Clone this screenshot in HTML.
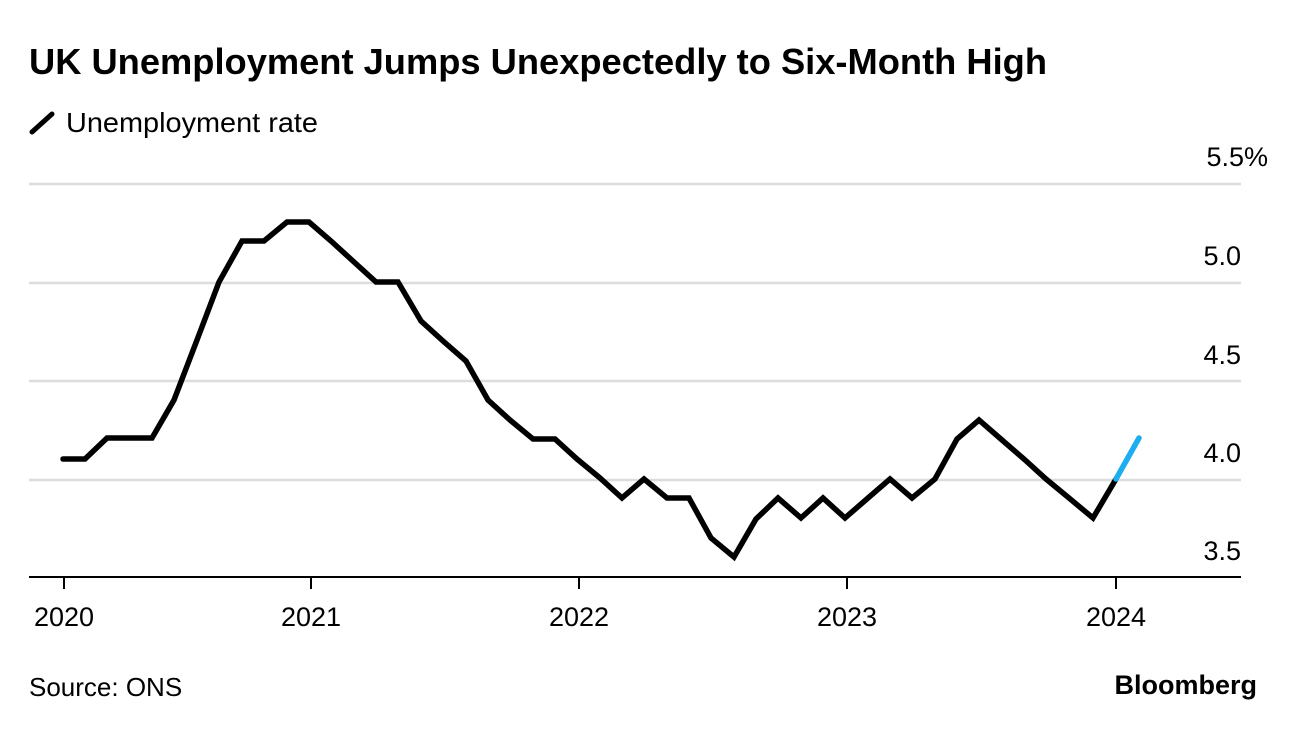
<!DOCTYPE html>
<html><head><meta charset="utf-8"><style>
html,body{margin:0;padding:0;background:#fff;}
body{width:1296px;height:728px;overflow:hidden;font-family:"Liberation Sans",sans-serif;}
</style></head><body>
<svg width="1296" height="728" viewBox="0 0 1296 728" xmlns="http://www.w3.org/2000/svg" font-family="Liberation Sans, sans-serif">
<text x="29" y="74" font-size="36" font-weight="bold" fill="#000" textLength="1018" lengthAdjust="spacingAndGlyphs">UK Unemployment Jumps Unexpectedly to Six-Month High</text>
<line x1="32" y1="132" x2="52" y2="114" stroke="#000" stroke-width="5" stroke-linecap="round"/>
<text x="66" y="132" font-size="28" fill="#000" textLength="252" lengthAdjust="spacingAndGlyphs">Unemployment rate</text>
<g stroke="#dcdcdc" stroke-width="2.5">
<line x1="29" y1="184" x2="1241" y2="184"/>
<line x1="29" y1="283" x2="1241" y2="283"/>
<line x1="29" y1="381" x2="1241" y2="381"/>
<line x1="29" y1="480" x2="1241" y2="480"/>
</g>
<line x1="29" y1="577" x2="1241" y2="577" stroke="#000" stroke-width="2"/>
<g stroke="#000" stroke-width="2">
<line x1="64" y1="577" x2="64" y2="589"/>
<line x1="311" y1="577" x2="311" y2="589"/>
<line x1="579" y1="577" x2="579" y2="589"/>
<line x1="847" y1="577" x2="847" y2="589"/>
<line x1="1116" y1="577" x2="1116" y2="589"/>
</g>
<g font-size="27" fill="#000" text-anchor="end">
<text x="1268" y="166">5.5%</text>
<text x="1241" y="265">5.0</text>
<text x="1241" y="364">4.5</text>
<text x="1241" y="462">4.0</text>
<text x="1241" y="560">3.5</text>
</g>
<g font-size="27" fill="#000" text-anchor="middle">
<text x="64" y="626">2020</text>
<text x="311" y="626">2021</text>
<text x="579" y="626">2022</text>
<text x="847" y="626">2023</text>
<text x="1116" y="626">2024</text>
</g>
<polyline fill="none" stroke="#000" stroke-width="5.5" stroke-linejoin="miter" stroke-linecap="round" points="63,459 85,459 107,438 130,438 152,438 174,400 197,340 219,282 242,241 264,241 287,222 309,222 331,241 354,262 376,282 398,282 421,321 443,341 466,361 488,400 510,420 533,439 555,439 577,459 600,478 622,498 644,479 667,498 689,498 711,538 734,557 756,519 778,498 801,518 823,498 845,518 868,498 890,479 912,498 935,479 957,439 979,420 1002,440 1024,459 1046,479 1069,498 1093,518 1116,479"/>
<polyline fill="none" stroke="#1eaef0" stroke-width="5.5" stroke-linecap="round" points="1116,479 1139,438"/>
<text x="29" y="696" font-size="26" fill="#000">Source: ONS</text>
<text x="1257" y="694" font-size="27" font-weight="bold" fill="#000" text-anchor="end">Bloomberg</text>
</svg>
</body></html>
